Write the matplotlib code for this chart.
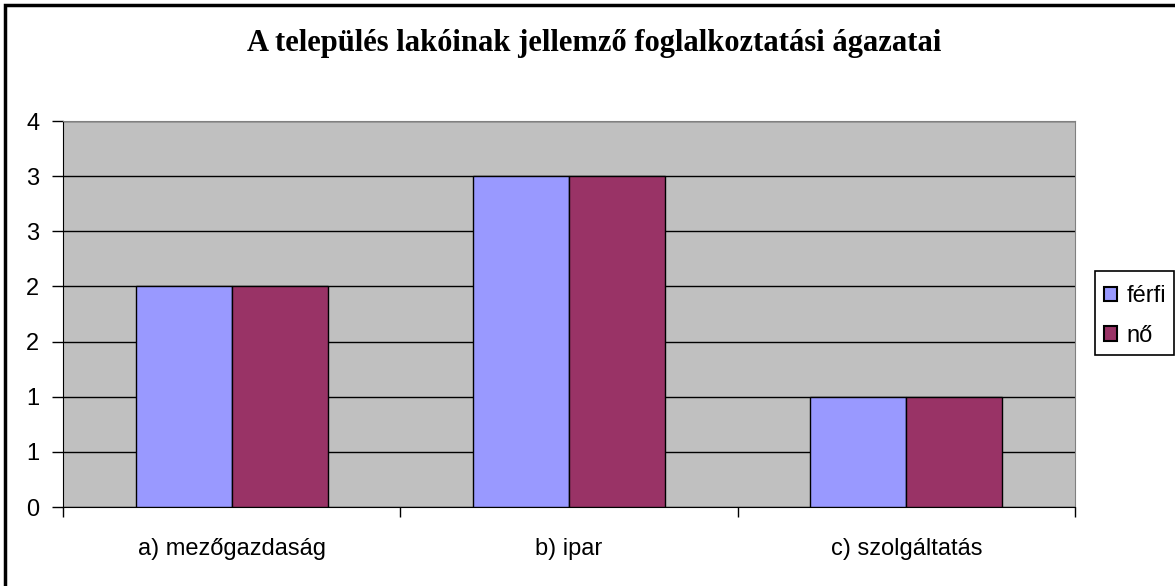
import matplotlib.pyplot as plt
from matplotlib.patches import Rectangle
import numpy as np

categories = ["a) mezőgazdaság", "b) ipar", "c) szolgáltatás"]
ferfi = [2, 3, 1]
no = [2, 3, 1]
series_names = ["férfi", "nő"]
y_ticks = [0, 0.5, 1, 1.5, 2, 2.5, 3, 3.5]
y_tick_labels = ["0", "1", "1", "2", "2", "3", "3", "4"]
title = "A település lakóinak jellemző foglalkoztatási ágazatai"

plt.rcParams["font.family"] = ["Liberation Sans", "DejaVu Sans"]

fig = plt.figure(figsize=(11.75, 5.86), dpi=100)
ax = fig.add_axes([63 / 1175, 79 / 586, 1012 / 1175, 386 / 586])
ax.set_facecolor("#C0C0C0")

x = np.arange(len(categories))
w = 0.285
ax.bar(x - w / 2, ferfi, w, color="#9999FF", edgecolor="black", linewidth=1, label=series_names[0], zorder=3)
ax.bar(x + w / 2, no, w, color="#993366", edgecolor="black", linewidth=1, label=series_names[1], zorder=3)

ax.set_xlim(-0.5, len(categories) - 0.5)
ax.set_ylim(0, 3.5)
ax.set_yticks(y_ticks)
ax.set_yticklabels(y_tick_labels, fontsize=17)
ax.yaxis.grid(True, color="black", linewidth=1, zorder=1)
ax.set_axisbelow(True)

ax.set_xticks(x)
ax.set_xticklabels(categories, fontsize=17)
ax.tick_params(axis="x", which="major", length=0, pad=22)
ax.set_xticks(np.arange(-0.5, len(categories), 1), minor=True)
ax.tick_params(axis="x", which="minor", length=7, direction="out", width=1)
ax.tick_params(axis="y", length=8, direction="out", width=1, pad=9)

ax.spines["top"].set_color("#808080")
ax.spines["right"].set_color("#808080")
ax.spines["left"].set_color("black")
ax.spines["bottom"].set_color("black")

fig.text(594 / 1175, 1 - 44 / 586, title, ha="center", va="center", fontsize=22,
         fontweight="bold", family=["Liberation Serif", "DejaVu Serif"])

# legend entries without frame, box drawn separately (Excel style padding)
leg = fig.legend(loc="center left", bbox_to_anchor=(1104 / 1175, (586 - 316) / 586),
                 fontsize=17, frameon=False,
                 handlelength=0.55, handleheight=0.55, handletextpad=0.4,
                 borderpad=0, labelspacing=0.75, borderaxespad=0)
for h in leg.legend_handles:
    h.set_edgecolor("black")
    h.set_linewidth(1.5)
fig.patches.append(Rectangle((1095 / 1175, (586 - 355) / 586), 79 / 1175, 84 / 586,
                             transform=fig.transFigure, fill=False,
                             edgecolor="black", linewidth=1.2))

# outer chart frame: only top and left edges fall inside the image
fig.patches.append(Rectangle((5 / 1175, -0.1), 1.2, 1.1 - 5 / 586,
                             transform=fig.transFigure, fill=False,
                             edgecolor="black", linewidth=2.5))

fig.savefig("out.png", dpi=100)
